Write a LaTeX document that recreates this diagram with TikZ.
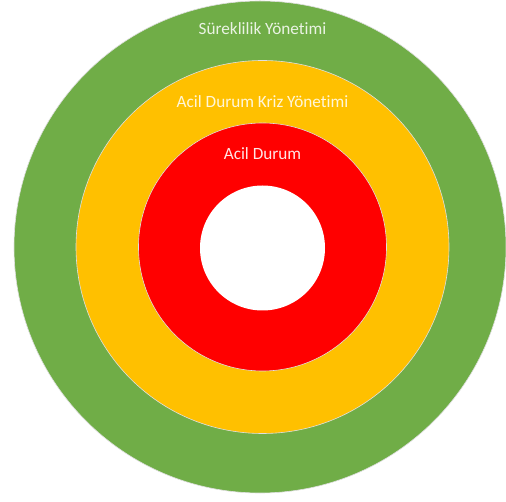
\documentclass[tikz,border=0pt]{standalone}
\usepackage{fontspec}
\setmainfont{Carlito}[Ligatures=NoCommon]
\definecolor{ringgreen}{HTML}{70AD47}
\definecolor{ringorange}{HTML}{FFC000}
\definecolor{ringred}{HTML}{FF0000}
\tikzset{
  ring/.style={draw=white!75!gray, line width=0.6pt},
  ringlabel/.style={font=\fontsize{17.2}{20}\selectfont, anchor=center, inner sep=0pt}
}
\begin{document}
\begin{tikzpicture}[x=1pt,y=-1pt]
\useasboundingbox (0,0) rectangle (506,502);
\fill[white] (0,0) rectangle (506,502);
\fill[fill=ringgreen] (260,247) circle (246);
\fill[fill=ringorange] (262.5,247) circle (186.5);
\fill[fill=ringred] (262.5,247) circle (124);
\fill[fill=white] (262.5,248) circle (62.5);
\draw[ring] (260,247) circle (246);
\draw[ring] (262.5,247) circle (186.5);
\draw[ring] (262.5,247) circle (124);
\node[ringlabel, text=ringgreen!15!white] (sy) at (262.5,29) {Süreklilik Yönetimi};
\node[ringlabel, text=ringorange!15!white] (ak) at (262.5,102) {Acil Durum Kriz Yönetimi};
\node[ringlabel, text=ringred!10!white] (ad) at (262.5,154) {Acil Durum};
\end{tikzpicture}
\end{document}
